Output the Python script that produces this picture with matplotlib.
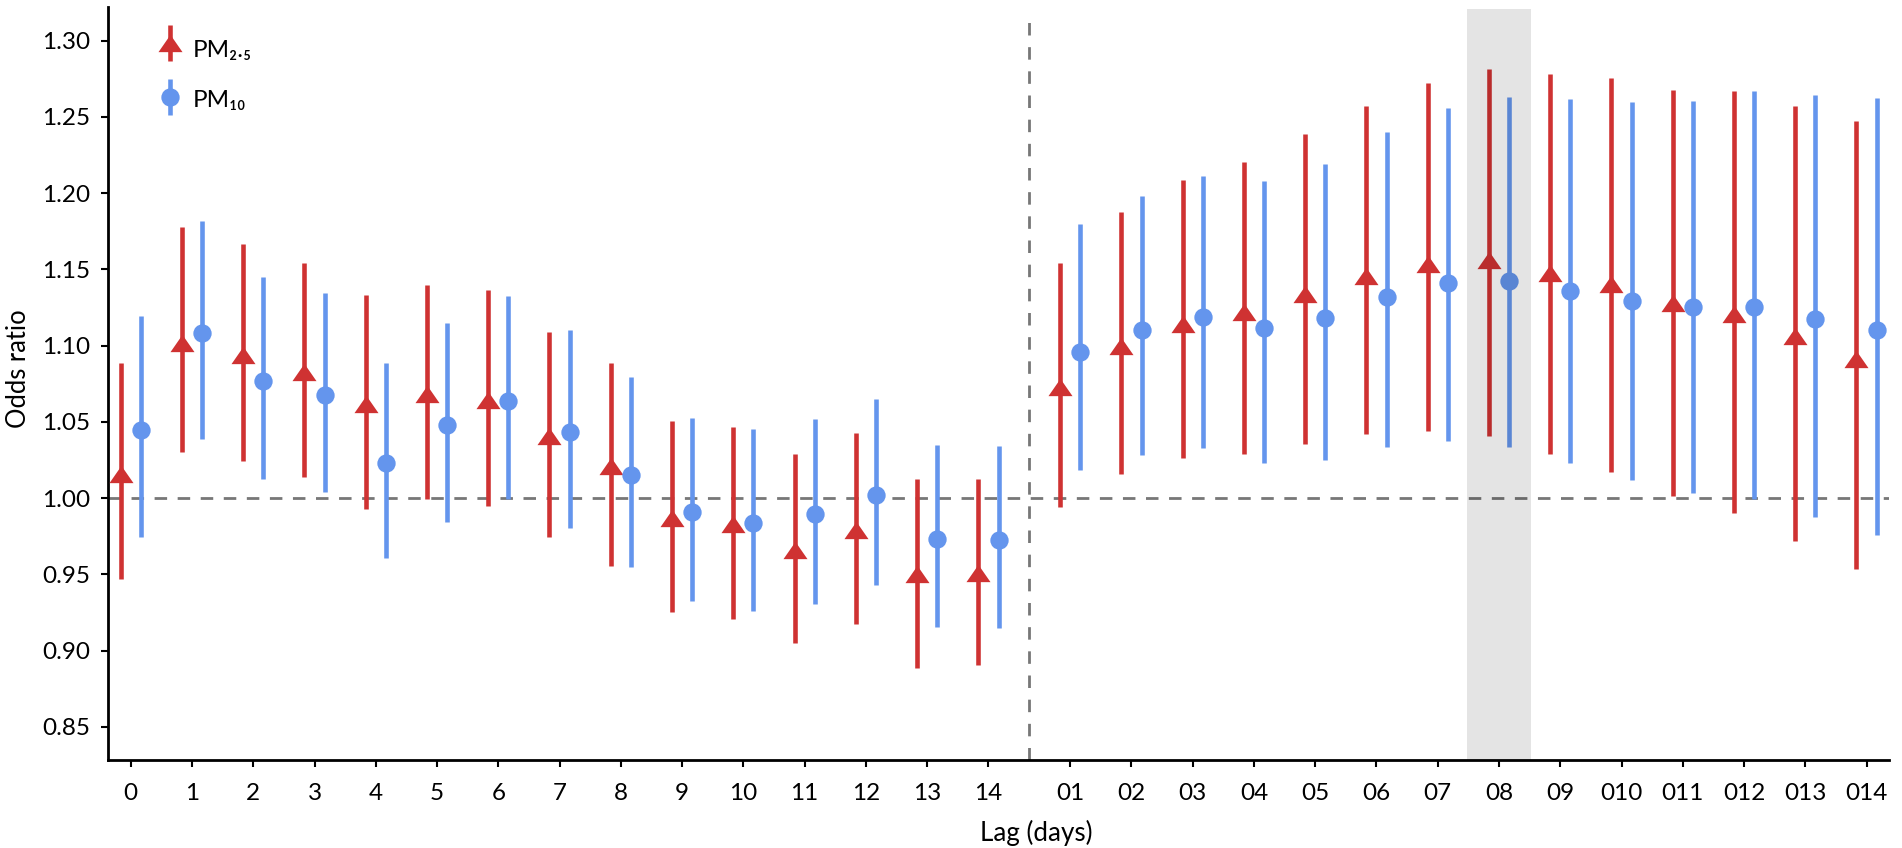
import numpy as np
import matplotlib
matplotlib.use("Agg")
import matplotlib.pyplot as plt
from matplotlib.legend_handler import HandlerErrorbar
from matplotlib.path import Path

plt.rcParams['font.family'] = ['Lato', 'DejaVu Sans']

categories = ['0', '1', '2', '3', '4', '5', '6', '7', '8', '9', '10', '11', '12', '13', '14',
              '01', '02', '03', '04', '05', '06', '07', '08', '09', '010', '011', '012', '013', '014']

pm25_or = [1.016, 1.102, 1.0935, 1.0826, 1.062, 1.068, 1.064, 1.041, 1.021, 0.987, 0.983, 0.966,
           0.979, 0.950, 0.951,
           1.0725, 1.0995, 1.114, 1.1217, 1.1337, 1.1455, 1.1536, 1.1564, 1.1479, 1.1402, 1.128,
           1.121, 1.1062, 1.0913]
pm25_lo = [0.947, 1.030, 1.024, 1.0136, 0.993, 0.9996, 0.9946, 0.9745, 0.9552, 0.9253, 0.921, 0.905,
           0.9174, 0.8887, 0.8908,
           0.9941, 1.0155, 1.0262, 1.0288, 1.0352, 1.0417, 1.0437, 1.0409, 1.0288, 1.017, 1.0013,
           0.990, 0.9718, 0.9533]
pm25_hi = [1.0885, 1.178, 1.1663, 1.1543, 1.133, 1.140, 1.1366, 1.109, 1.0885, 1.0505, 1.0465, 1.029,
           1.0429, 1.0123, 1.0123,
           1.154, 1.1879, 1.2083, 1.2206, 1.2385, 1.2571, 1.272, 1.2811, 1.2781, 1.2755, 1.2678,
           1.2667, 1.2569, 1.2473]

pm10_or = [1.0448, 1.108, 1.0767, 1.0673, 1.0229, 1.0476, 1.0636, 1.0433, 1.0153, 0.9907, 0.9839,
           0.9896, 1.0022, 0.9731, 0.9725,
           1.0957, 1.1103, 1.1186, 1.1117, 1.1178, 1.1317, 1.1411, 1.1422, 1.1361, 1.1289, 1.125,
           1.1254, 1.1176, 1.1101]
pm10_lo = [0.9745, 1.039, 1.0122, 1.0039, 0.961, 0.984, 0.9996, 0.9806, 0.9548, 0.9325, 0.9258,
           0.9308, 0.9428, 0.9152, 0.9145,
           1.0186, 1.0284, 1.033, 1.0229, 1.0249, 1.0332, 1.0372, 1.0332, 1.0229, 1.012, 1.0035,
           0.9996, 0.9876, 0.9758]
pm10_hi = [1.1197, 1.1815, 1.145, 1.1346, 1.0887, 1.115, 1.1324, 1.110, 1.0793, 1.0524, 1.0455,
           1.0516, 1.0649, 1.035, 1.0339,
           1.1794, 1.1984, 1.211, 1.2077, 1.2193, 1.2398, 1.256, 1.2628, 1.2615, 1.2595, 1.2606,
           1.2669, 1.2643, 1.2626]

yticks = [0.85, 0.90, 0.95, 1.00, 1.05, 1.10, 1.15, 1.20, 1.25, 1.30]
series_labels = ['PM₂.₅', 'PM₁₀']
highlight = '08'

RED = '#cf3232'
BLUE = '#6495ed'

idx = np.arange(len(categories))
n_single = categories.index('01')
pos = idx + np.where(idx >= n_single, 0.334, 0.0)
off = 0.165

pm25_or = np.array(pm25_or); pm10_or = np.array(pm10_or)
err25 = np.vstack([pm25_or - np.array(pm25_lo), np.array(pm25_hi) - pm25_or])
err10 = np.vstack([pm10_or - np.array(pm10_lo), np.array(pm10_hi) - pm10_or])

tri = Path([(-1, -0.72), (1, -0.72), (0, 0.72), (-1, -0.72)],
           [Path.MOVETO, Path.LINETO, Path.LINETO, Path.CLOSEPOLY])


class RaisedErrorbar(HandlerErrorbar):
    """Errorbar legend handle drawn slightly above the text centre."""
    def __init__(self, dy=0.0, **kw):
        super().__init__(**kw)
        self.dy = dy

    def create_artists(self, legend, orig_handle, xdescent, ydescent, width, height,
                       fontsize, trans):
        return super().create_artists(legend, orig_handle, xdescent, ydescent - 2 * self.dy,
                                      width, height, fontsize, trans)


fig = plt.figure(figsize=(19.02, 8.48), dpi=100)
ax = fig.add_axes([0.0569, 0.1034, 0.9363, 0.8883])

ax.axhline(1.0, color='#777777', lw=2.0, dashes=(4.5, 3.8), zorder=1)
xsep = (pos[n_single - 1] + pos[n_single]) / 2
ax.axvline(xsep, ymax=0.986, color='#777777', lw=2.0, dashes=(4.5, 4.2), zorder=1)

ax.errorbar(pos - off, pm25_or, yerr=err25, fmt='none', ecolor=RED,
            elinewidth=3.3, capsize=0, zorder=3)
ax.plot(pos - off, pm25_or, linestyle='none', marker=tri, markersize=17.3,
        color=RED, markeredgewidth=0, zorder=3)
ax.errorbar(pos + off, pm10_or, yerr=err10, fmt='none', ecolor=BLUE,
            elinewidth=3.3, capsize=0, zorder=3)
ax.plot(pos + off, pm10_or, linestyle='none', marker='o', markersize=13.2,
        color=BLUE, markeredgewidth=0, zorder=3)

hpos = pos[categories.index(highlight)]
ax.axvspan(hpos - 0.52, hpos + 0.52, ymax=0.998, color='black', alpha=0.105, lw=0, zorder=5)

h1 = ax.errorbar([np.nan], [np.nan], yerr=[[0], [0]], marker=tri, markersize=17.3, color=RED,
                 ecolor=RED, elinewidth=3.3, linestyle='none', markeredgewidth=0, capsize=0)
h2 = ax.errorbar([np.nan], [np.nan], yerr=[[0], [0]], marker='o', markersize=13.2, color=BLUE,
                 ecolor=BLUE, elinewidth=3.3, linestyle='none', markeredgewidth=0, capsize=0)
leg = ax.legend([h1, h2], series_labels, loc='upper left',
                bbox_to_anchor=(0.0279, 0.9563), frameon=False, fontsize=17.5,
                borderpad=0, borderaxespad=0, handlelength=1.0, handletextpad=0.45,
                labelspacing=1.19,
                handler_map={h1: RaisedErrorbar(dy=3.75, yerr_size=0.75),
                             h2: RaisedErrorbar(dy=1.2, yerr_size=0.75)})

ax.set_xlim(-0.367, pos[-1] + 0.367)
ax.set_ylim(0.828, 1.322)
ax.set_xticks(pos)
ax.set_xticklabels(categories)
ax.set_yticks(yticks)
ax.set_yticklabels([f'{v:.2f}' for v in yticks])

for s in ['top', 'right']:
    ax.spines[s].set_visible(False)
for s in ['left', 'bottom']:
    ax.spines[s].set_linewidth(2.0)
    ax.spines[s].set_color('black')

ax.tick_params(axis='both', labelsize=17.5, length=5, width=1.5, colors='black')
ax.tick_params(axis='x', pad=11.5)
ax.tick_params(axis='y', pad=8)

ax.set_xlabel('Lag (days)', fontsize=18.7)
ax.set_ylabel('Odds ratio', fontsize=18.4)
ax.xaxis.set_label_coords(0.521, -0.079)
ax.yaxis.set_label_coords(-0.0435, 0.52)

fig.savefig('out.png', dpi=100)
